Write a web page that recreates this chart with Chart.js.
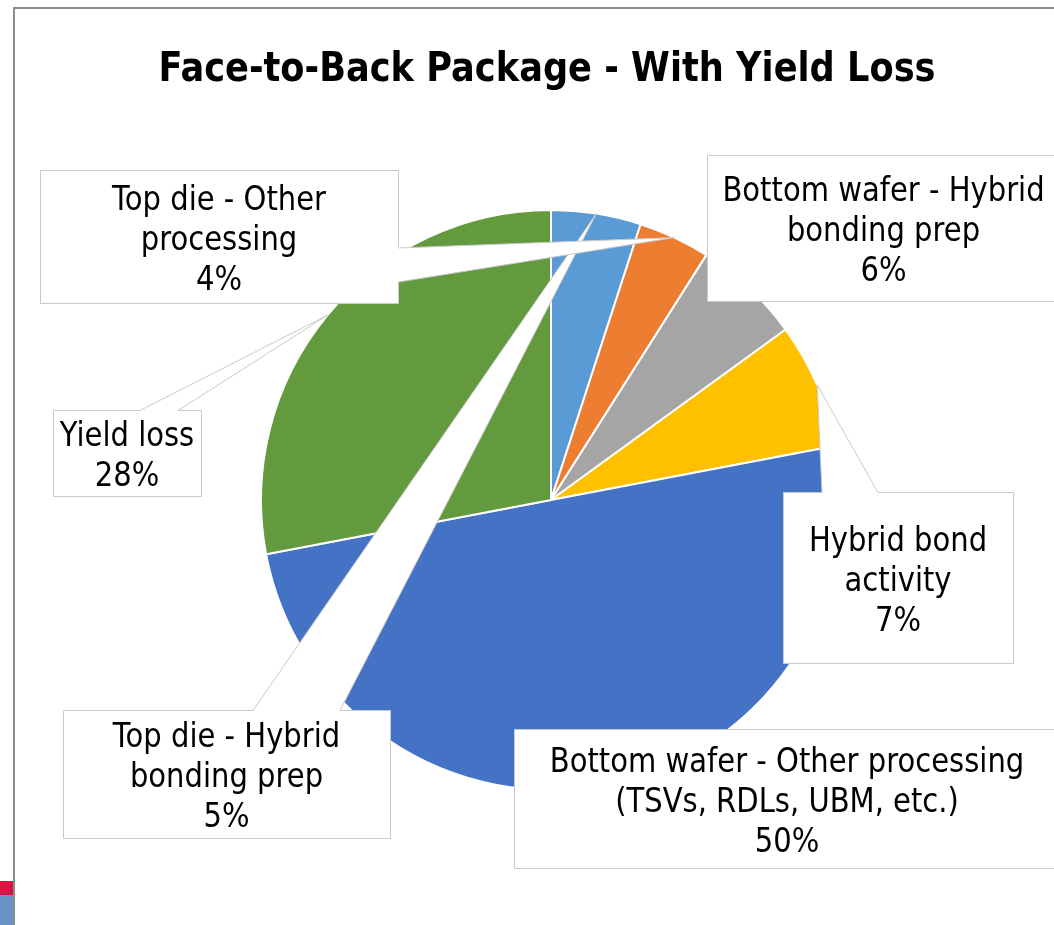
<!DOCTYPE html>
<html>
<head>
<meta charset="utf-8">
<title>Face-to-Back Package - With Yield Loss</title>
<script src="https://cdn.jsdelivr.net/npm/chart.js@4/dist/chart.umd.min.js"></script>
<style>
  html, body { margin: 0; padding: 0; background: #fff; }
  #page { position: relative; width: 1054px; height: 925px; overflow: hidden; background: #fff; }
  #frame { position: absolute; left: 13px; top: 7px; right: -10px; bottom: -10px;
           border-top: 2px solid #8c8c8c; border-left: 2px solid #8c8c8c; }
  .tab { position: absolute; left: 0; width: 13px; }
  #tabRed { top: 881px; height: 14px; background: #dc1443; }
  #tabBlue { top: 895px; height: 30px; background: #6a93c8; }
  #chart { position: absolute; left: 0; top: 0; }
</style>
</head>
<body>
<div id="page">
  <div id="frame"></div>
  <div class="tab" id="tabRed"></div>
  <div class="tab" id="tabBlue"></div>
  <canvas id="chart" width="1054" height="925"></canvas>
</div>
<script>
const chartTitle = 'Face-to-Back Package - With Yield Loss';

const categories = [
  'Top die - Hybrid bonding prep',
  'Top die - Other processing',
  'Bottom wafer - Hybrid bonding prep',
  'Hybrid bond activity',
  'Bottom wafer - Other processing (TSVs, RDLs, UBM, etc.)',
  'Yield loss'
];

// share of total package cost, percent
const shares = [5, 4, 6, 7, 50, 28];

// wrapped category names as shown in the data callouts
const labelLines = [
  ['Top die - Hybrid', 'bonding prep'],
  ['Top die - Other', 'processing'],
  ['Bottom wafer - Hybrid', 'bonding prep'],
  ['Hybrid bond', 'activity'],
  ['Bottom wafer - Other processing', '(TSVs, RDLs, UBM, etc.)'],
  ['Yield loss']
];

const sliceColors = ['#5b9bd5', '#ed7d31', '#a5a5a5', '#ffc000', '#4472c4', '#639a3e'];

// callout box for each slice; the pointer base sits on one edge (a..b) and
// its tip is taken from the slice's arc element
const callouts = [
  { x: 63,  y: 710, w: 327, h: 128, edge: 'top',   a: 253, b: 340 },
  { x: 40,  y: 170, w: 358, h: 133, edge: 'right', a: 248, b: 282 },
  { x: 707, y: 155, w: 353, h: 146, edge: null },
  { x: 783, y: 492, w: 230, h: 171, edge: 'top',   a: 822, b: 878 },
  { x: 514, y: 729, w: 546, h: 139, edge: null },
  { x: 53,  y: 410, w: 148, h: 86,  edge: 'top',   a: 140, b: 178 }
];

const textFont = '"DejaVu Sans", Verdana, sans-serif';
const textSize = 33;
const textSquash = 0.88;
const lineStep = 40;

function px(v) { return Math.round(v) + 0.5; }

function calloutPath(ctx, box, tip) {
  const x0 = px(box.x), y0 = px(box.y);
  const x1 = px(box.x + box.w), y1 = px(box.y + box.h);
  ctx.beginPath();
  ctx.moveTo(x0, y0);
  if (box.edge === 'top' && tip) {
    ctx.lineTo(box.a, y0);
    ctx.lineTo(tip.x, tip.y);
    ctx.lineTo(box.b, y0);
  }
  ctx.lineTo(x1, y0);
  if (box.edge === 'right' && tip) {
    ctx.lineTo(x1, box.a);
    ctx.lineTo(tip.x, tip.y);
    ctx.lineTo(x1, box.b);
  }
  ctx.lineTo(x1, y1);
  ctx.lineTo(x0, y1);
  ctx.closePath();
}

function squashedText(ctx, text, cx, cy) {
  ctx.save();
  ctx.translate(cx, cy);
  ctx.scale(textSquash, 1);
  ctx.fillText(text, 0, 0);
  ctx.restore();
}

const calloutPlugin = {
  id: 'sliceCallouts',
  afterDatasetsDraw(chart) {
    const ctx = chart.ctx;
    const arcs = chart.getDatasetMeta(0).data;
    arcs.forEach((arc, i) => {
      const p = arc.getProps(['x', 'y', 'startAngle', 'endAngle', 'outerRadius'], true);
      const mid = (p.startAngle + p.endAngle) / 2;
      const tip = { x: p.x + Math.cos(mid) * p.outerRadius, y: p.y + Math.sin(mid) * p.outerRadius };
      const box = callouts[i];

      ctx.save();
      calloutPath(ctx, box, box.edge ? tip : null);
      ctx.fillStyle = '#ffffff';
      ctx.fill();
      ctx.strokeStyle = '#c9c9c9';
      ctx.lineWidth = 1;
      ctx.stroke();

      const lines = labelLines[i].concat([shares[i] + '%']);
      ctx.fillStyle = '#000000';
      ctx.font = textSize + 'px ' + textFont;
      ctx.textAlign = 'center';
      ctx.textBaseline = 'middle';
      const cx = box.x + box.w / 2;
      const top = box.y + box.h / 2 - (lines.length - 1) * lineStep / 2 + 4.5;
      lines.forEach((ln, k) => squashedText(ctx, ln, cx, top + k * lineStep));
      ctx.restore();
    });
  },
  afterDraw(chart) {
    const ctx = chart.ctx;
    ctx.save();
    ctx.fillStyle = '#000000';
    ctx.font = 'bold 40px ' + textFont;
    ctx.textAlign = 'center';
    ctx.textBaseline = 'middle';
    squashedText(ctx, chartTitle, 547, 71);
    ctx.restore();
  }
};

new Chart(document.getElementById('chart'), {
  type: 'pie',
  data: {
    labels: categories,
    datasets: [{
      data: shares,
      backgroundColor: sliceColors,
      borderColor: '#ffffff',
      borderWidth: 2,
      radius: 290
    }]
  },
  options: {
    responsive: false,
    animation: false,
    events: [],
    layout: { padding: { left: 261, right: 213, top: 210, bottom: 135 } },
    plugins: {
      legend: { display: false },
      tooltip: { enabled: false },
      title: { display: false }
    }
  },
  plugins: [calloutPlugin]
});
</script>
</body>
</html>
